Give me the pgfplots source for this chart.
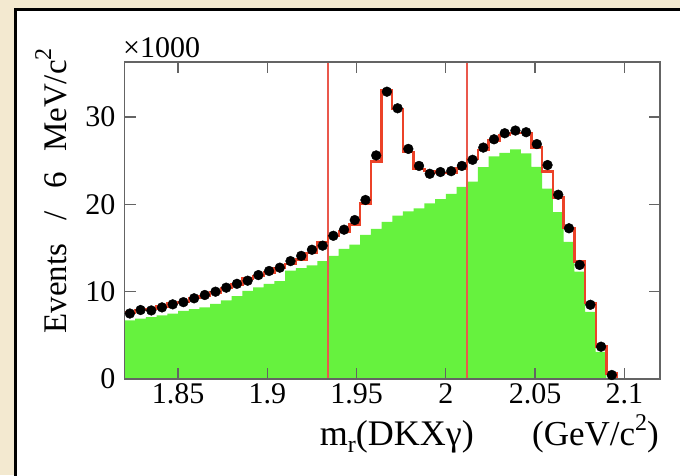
\documentclass[border=0pt]{standalone}
\usepackage{fontspec}
\setmainfont{Liberation Serif}
\usepackage{pgfplots}
\pgfplotsset{compat=1.18}
\usepackage{pgfplotstable}
\definecolor{bg}{RGB}{243,233,208}
\definecolor{hgreen}{RGB}{102,242,62}
\definecolor{fitred}{RGB}{236,66,40}
\definecolor{vred}{RGB}{234,88,76}
\definecolor{axgray}{RGB}{100,100,100}

\pgfplotstableread{
x g f d
1.820 6.7 7.6 7.5
1.826 6.9 7.9 7.9
1.832 7.1 8.0 7.85
1.838 7.3 8.3 8.2
1.844 7.5 8.7 8.55
1.850 7.8 8.8 8.8
1.856 8.0 9.3 9.24
1.862 8.2 9.5 9.62
1.868 8.6 9.9 10.0
1.874 9.0 10.4 10.46
1.880 9.5 10.8 10.9
1.886 10.1 11.5 11.26
1.892 10.5 11.8 11.9
1.898 10.9 12.2 12.37
1.904 11.2 12.7 12.75
1.910 12.4 13.2 13.5
1.916 12.7 13.7 14.1
1.922 13.0 14.4 14.8
1.928 13.5 15.7 15.27
1.934 14.1 16.4 16.4
1.940 14.9 16.9 17.1
1.946 15.4 17.7 18.2
1.952 16.5 20.1 20.5
1.958 17.2 24.9 25.6
1.964 18.0 33.1 32.9
1.970 18.7 30.9 31.0
1.976 19.2 26.0 26.35
1.982 19.55 24.05 24.4
1.988 20.1 23.8 23.5
1.994 20.6 23.6 23.7
2.000 21.2 23.6 23.8
2.006 22.0 24.1 24.4
2.012 22.6 25.2 25.1
2.018 24.25 26.2 26.5
2.024 25.5 27.3 27.45
2.030 25.9 27.95 28.14
2.036 26.3 28.2 28.45
2.042 25.85 28.15 28.26
2.048 24.3 26.5 26.9
2.054 21.8 23.75 24.5
2.060 19.1 20.8 21.1
2.066 15.7 17.26 17.26
2.072 12.3 13.44 13.06
2.078 7.7 8.67 8.5
2.084 3.1 3.7 3.7
2.090 0 0.65 0.46
2.096 0 0 nan
2.102 0 0 nan
2.108 0 0 nan
2.114 0 0 nan
2.120 0 0 nan
}\datatable

\begin{document}
\begin{tikzpicture}[x=1pt,y=1pt]
\useasboundingbox (0,0) rectangle (680,475);
\begin{scope}
\clip (0,0) rectangle (680,475);
\fill[bg] (0,0) rectangle (680,475);
\filldraw[fill=white, draw=black, line width=3pt] (15,-10) rectangle (700,465);
\end{scope}
\begin{axis}[
  at={(124.5pt,96pt)}, anchor=south west,
  scale only axis, width=535.5pt, height=317pt,
  xmin=1.82, xmax=2.12, ymin=0, ymax=36.3,
  axis on top,
  axis line style={axgray, line width=1.2pt},
  xtick={1.85,1.9,1.95,2,2.05,2.1},
  xticklabels={1.85,1.9,1.95,2,2.05,2.1},
  ytick={0,10,20,30},
  yticklabels={0,10,20,30},
  tick align=inside,
  major tick length=11pt,
  every tick/.style={axgray, line width=1.3pt},
  ticklabel style={font=\fontsize{30}{35}\selectfont, text=black},
  xticklabel style={inner sep=0pt, yshift=-4pt},
  yticklabel style={inner sep=0pt, xshift=-9pt},
  /pgf/number format/assume math mode=true,
  unbounded coords=discard,
]
\addplot[const plot, fill=hgreen, draw=none] table[x=x, y=g] {\datatable} \closedcycle;
\addplot[draw=vred, line width=1.5pt] coordinates {(1.934,0) (1.934,36.3)};
\addplot[draw=vred, line width=1.5pt] coordinates {(2.012,0) (2.012,36.3)};
\addplot[const plot, fitred, line width=2.4pt] table[x=x, y=f] {\datatable};
\addplot[only marks, mark=*, mark size=4.9pt, black] table[x expr=\thisrow{x}+0.003, y=d] {\datatable};
\end{axis}
\node[anchor=base west, inner sep=0pt] at (123,417) {\fontsize{30}{35}\selectfont ×1000};
\node[rotate=90, anchor=base east, inner sep=0pt] at (66,427) {\fontsize{33}{38}\selectfont Events\hspace{0.7em}/\hspace{0.7em}6\hspace{0.6em}MeV/c\raisebox{0.45em}{\fontsize{24}{24}\selectfont 2}};
\node[anchor=base east, inner sep=0pt] at (474,30) {\fontsize{36}{40}\selectfont m\raisebox{-0.22em}{\fontsize{24}{24}\selectfont r}(DKXγ)};
\node[anchor=base east, inner sep=0pt] at (659,30) {\fontsize{35}{40}\selectfont (GeV/c\raisebox{0.42em}{\fontsize{24}{24}\selectfont 2})};
\end{tikzpicture}
\end{document}
